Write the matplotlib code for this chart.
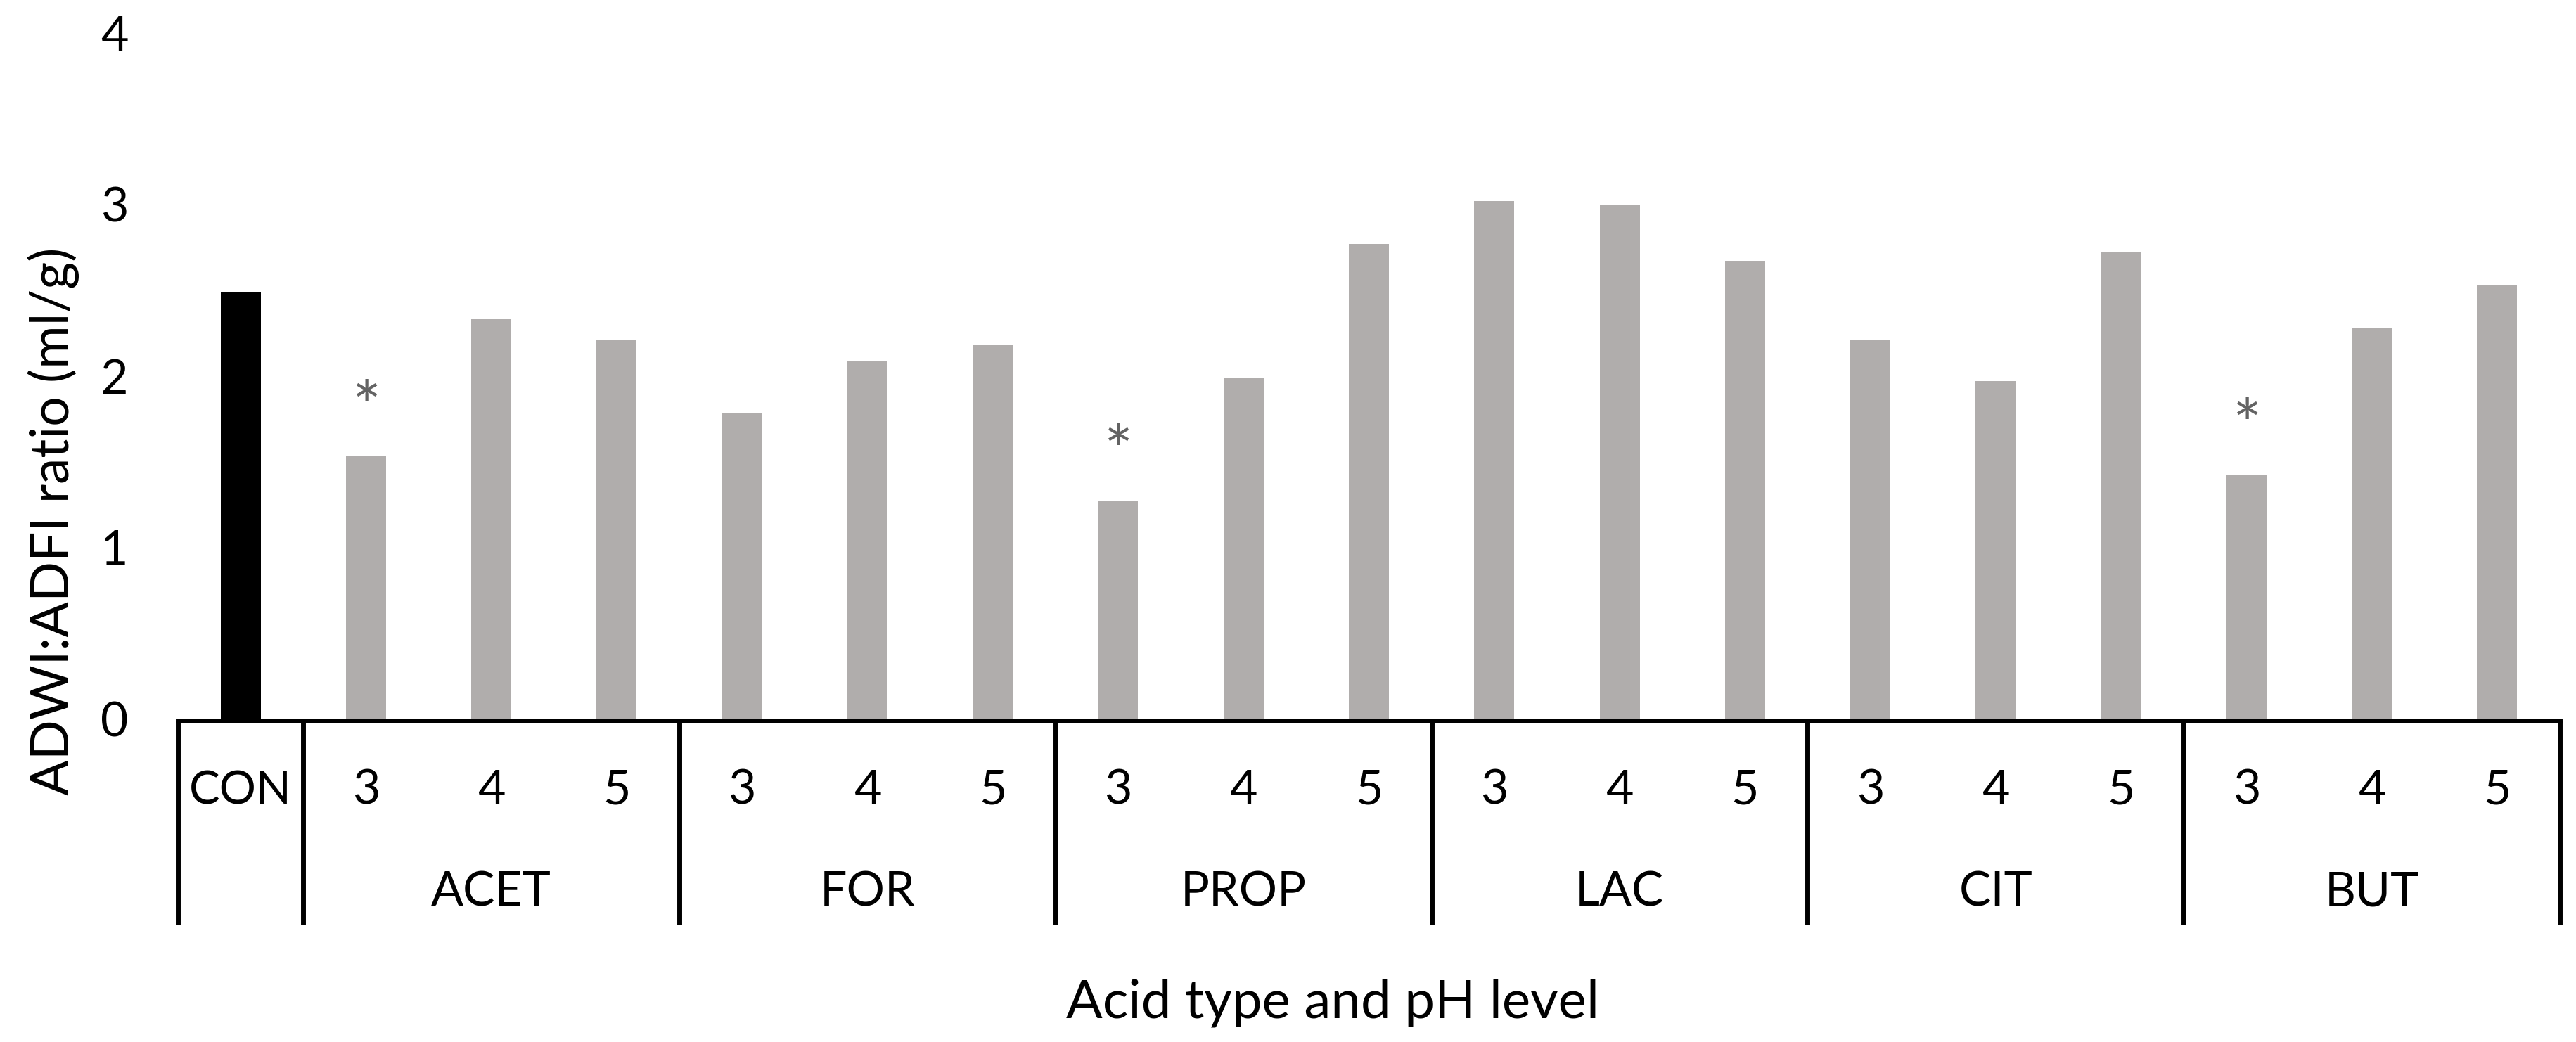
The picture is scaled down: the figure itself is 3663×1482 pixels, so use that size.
import matplotlib
matplotlib.use("Agg")
import matplotlib.pyplot as plt

plt.rcParams["font.family"] = ["Lato", "DejaVu Sans"]

# data
control_label = "CON"
control_value = 2.49
groups = ["ACET", "FOR", "PROP", "LAC", "CIT", "BUT"]
ph_levels = ["3", "4", "5"]
acet = [1.53, 2.33, 2.21]
form = [1.78, 2.09, 2.18]
prop = [1.27, 1.99, 2.77]
lac = [3.02, 3.00, 2.67]
cit = [2.21, 1.97, 2.72]
but = [1.42, 2.28, 2.53]
# significance marks (group, pH)
signif = [("ACET", "3"), ("PROP", "3"), ("BUT", "3")]

group_values = [acet, form, prop, lac, cit, but]

fig = plt.figure(figsize=(36.63, 14.82), dpi=100)
ax = fig.add_axes([0.06907, 0.31039, 0.92465, 0.65789])

fs = 49
star_fs = 70
bar_w = 0.32
grey = "#B0ADAC"

# control bar
ax.bar(0, control_value, width=bar_w, color="black", zorder=2)

x = 1
for g, vals in zip(groups, group_values):
    xs = list(range(x, x + len(vals)))
    ax.bar(xs, vals, width=bar_w, color=grey, zorder=2)
    for xi, ph, v in zip(xs, ph_levels, vals):
        ax.text(xi, -0.5005, ph, ha="center", va="baseline", fontsize=fs)
        if (g, ph) in signif:
            ax.text(xi, v + 0.39 - 0.236, "*", ha="center", va="baseline",
                    fontsize=star_fs, color="#636363")
    ax.text(xs[1], -1.095, g, ha="center", va="baseline", fontsize=fs)
    x += len(vals)

ax.text(0, -0.5005, control_label, ha="center", va="baseline", fontsize=fs - 2)

n = x
ax.set_xlim(-0.5, n - 0.5)
ax.set_ylim(0, 4)

# axis line and separators of the grouped category axis
lw = 5
ax.plot([-0.5, n - 0.5], [-0.012, -0.012], color="black", lw=lw, clip_on=False,
        solid_capstyle="projecting", zorder=3)
seps = [-0.5, 0.5] + [0.5 + 3 * k for k in range(1, len(groups) + 1)]
for s in seps:
    ax.plot([s, s], [-0.012, -1.202], color="black", lw=lw, clip_on=False,
            solid_capstyle="butt", zorder=3)

for sp in ax.spines.values():
    sp.set_visible(False)
ax.set_xticks([])
ax.set_yticks([0, 1, 2, 3, 4])
ax.tick_params(axis="y", length=0, pad=51, labelsize=fs)

fig.text(76 / 3663, 0.5, "ADWI:ADFI ratio (ml/g)", rotation=90,
         ha="center", va="center", fontsize=54)
fig.text(0.5173, 0.0236, "Acid type and pH level", ha="center",
         va="baseline", fontsize=55)

fig.savefig("out.png", dpi=100)
